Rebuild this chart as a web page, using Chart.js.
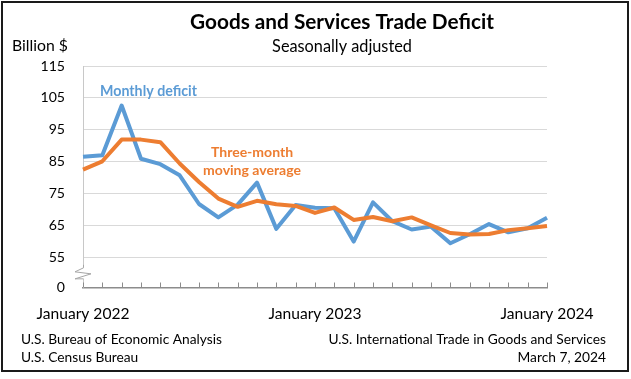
<!DOCTYPE html>
<html>
<head>
<meta charset="utf-8">
<script src="https://cdn.jsdelivr.net/npm/chart.js@4/dist/chart.umd.min.js"></script>
<style>
  html, body { margin: 0; padding: 0; background: #ffffff; }
  #wrap { position: relative; width: 631px; height: 379px; }
  canvas { display: block; }
</style>
</head>
<body>
<div id="wrap"><canvas id="c" width="631" height="379"></canvas></div>
<script>
// ---- data ----
const months = ['Jan 2022','Feb 2022','Mar 2022','Apr 2022','May 2022','Jun 2022','Jul 2022','Aug 2022','Sep 2022','Oct 2022','Nov 2022','Dec 2022',
                'Jan 2023','Feb 2023','Mar 2023','Apr 2023','May 2023','Jun 2023','Jul 2023','Aug 2023','Sep 2023','Oct 2023','Nov 2023','Dec 2023','Jan 2024'];
const monthlyDeficit = [86.5, 87.0, 102.6, 85.9, 84.2, 80.7, 71.7, 67.5, 71.5, 78.4, 63.9, 71.4,
                        70.5, 70.4, 59.9, 72.2, 66.3, 63.7, 64.6, 59.4, 62.2, 65.4, 62.8, 64.1, 67.4];
const movingAverage  = [82.5, 85.1, 91.9, 91.9, 91.1, 84.4, 78.6, 73.4, 70.8, 72.7, 71.6, 71.1,
                        68.9, 70.6, 66.7, 67.6, 66.3, 67.5, 65.0, 62.6, 62.1, 62.3, 63.5, 64.1, 64.8];
const xTickLabels = {0: 'January 2022', 12: 'January 2023', 24: 'January 2024'};
const yTickValues = [55, 65, 75, 85, 95, 105, 115];
const yBreakValue = 45.5;   // axis bottom, labelled "0" (broken axis)

const FAMILY = 'Lato, "Open Sans", sans-serif';
const BLUE = '#5B9BD5';
const ORANGE = '#ED7D31';

// fit a font size so the text has the target width
const mctx = document.createElement('canvas').getContext('2d');
function fitSize(text, width, weight) {
  mctx.font = weight + ' 100px ' + FAMILY;
  return 100 * width / mctx.measureText(text).width;
}
const tickSize = fitSize('115', 24.5, 'normal');
const xLabSize = fitSize('January 2022', 93, 'normal');

const decor = {
  id: 'decor',
  beforeDraw(chart) {
    const ctx = chart.ctx;
    ctx.save();
    ctx.fillStyle = '#ffffff';
    ctx.fillRect(0, 0, chart.width, chart.height);
    ctx.restore();
  },
  afterDraw(chart) {
    const ctx = chart.ctx;
    const xs = chart.scales.x, ys = chart.scales.y;
    const ca = chart.chartArea;
    ctx.save();
    // inner tick marks on the x axis
    ctx.strokeStyle = '#8c8c8c';
    ctx.lineWidth = 1;
    for (let i = 0; i < months.length; i++) {
      const px = Math.round(xs.getPixelForValue(i)) + 0.5;
      ctx.beginPath();
      ctx.moveTo(px, ca.bottom);
      ctx.lineTo(px, ca.bottom - 5);
      ctx.stroke();
    }
    // axis break mark
    const yb = ys.getPixelForValue(yBreakValue + 4.6);
    ctx.fillStyle = '#ffffff';
    ctx.fillRect(ca.left - 2, yb - 6, 5, 12);
    ctx.strokeStyle = '#a6a6a6';
    ctx.lineWidth = 1;
    ctx.beginPath();
    ctx.moveTo(ca.left + 0.5, yb - 8);
    ctx.lineTo(ca.left + 0.5, yb - 5);
    ctx.lineTo(ca.left - 8, yb - 1);
    ctx.lineTo(ca.left + 8, yb + 1);
    ctx.lineTo(ca.left - 8, yb + 6);
    ctx.lineTo(ca.left + 0.5, yb + 6);
    ctx.stroke();

    // texts
    ctx.textBaseline = 'alphabetic';
    ctx.fillStyle = '#000000';
    let s;
    s = fitSize('Goods and Services Trade Deficit', 304, 'bold');
    ctx.font = 'bold ' + s + 'px ' + FAMILY;
    ctx.textAlign = 'center';
    ctx.fillText('Goods and Services Trade Deficit', 342, 29);

    s = fitSize('Seasonally adjusted', 140, 'normal');
    ctx.font = s + 'px ' + FAMILY;
    ctx.fillText('Seasonally adjusted', 342, 52);

    s = fitSize('Billion $', 56, 'normal');
    ctx.font = s + 'px ' + FAMILY;
    ctx.textAlign = 'left';
    ctx.fillText('Billion $', 12, 51);

    s = fitSize('U.S. Bureau of Economic Analysis', 201, 'normal');
    ctx.font = s + 'px ' + FAMILY;
    ctx.fillText('U.S. Bureau of Economic Analysis', 21, 344);
    ctx.fillText('U.S. Census Bureau', 21, 362);

    s = fitSize('U.S. International Trade in Goods and Services', 278, 'normal');
    ctx.font = s + 'px ' + FAMILY;
    ctx.textAlign = 'right';
    ctx.fillText('U.S. International Trade in Goods and Services', 606, 344);
    ctx.fillText('March 7, 2024', 606, 362);

    // series annotations
    s = fitSize('Monthly deficit', 97, 'bold');
    ctx.font = 'bold ' + s + 'px ' + FAMILY;
    ctx.fillStyle = BLUE;
    ctx.textAlign = 'center';
    ctx.fillText('Monthly deficit', 148.5, 96);

    s = fitSize('moving average', 98, 'bold');
    ctx.font = 'bold ' + s + 'px ' + FAMILY;
    ctx.fillStyle = ORANGE;
    ctx.fillText('Three-month', 252, 157);
    ctx.fillText('moving average', 252, 175);

    // outer frame
    ctx.strokeStyle = '#1a1a1a';
    ctx.lineWidth = 2;
    ctx.strokeRect(2, 2, 626, 369);
    ctx.restore();
  }
};

new Chart(document.getElementById('c'), {
  type: 'line',
  data: {
    labels: months,
    datasets: [
      { label: 'Three-month moving average', data: movingAverage, borderColor: ORANGE, borderWidth: 4,
        pointRadius: 0, tension: 0, fill: false, order: 0, borderJoinStyle: 'round', borderCapStyle: 'butt' },
      { label: 'Monthly deficit', data: monthlyDeficit, borderColor: BLUE, borderWidth: 4,
        pointRadius: 0, tension: 0, fill: false, order: 1, borderJoinStyle: 'round', borderCapStyle: 'butt' }
    ]
  },
  options: {
    responsive: false,
    animation: false,
    devicePixelRatio: 1,
    layout: { padding: { left: 0, right: 84, top: 66, bottom: 0 } },
    plugins: { legend: { display: false }, tooltip: { enabled: false }, title: { display: false } },
    scales: {
      x: {
        type: 'category',
        offset: false,
        grid: { display: false, drawTicks: false },
        border: { display: true, color: '#8c8c8c', width: 1.5 },
        ticks: {
          autoSkip: false, maxRotation: 0, minRotation: 0, padding: 17,
          color: '#000000', font: { family: FAMILY, size: xLabSize },
          callback: (v, i) => xTickLabels[i] || ''
        },
        afterFit: (scale) => { scale.height = 379 - 287.5; }
      },
      y: {
        type: 'linear',
        min: yBreakValue,
        max: 115,
        afterBuildTicks: (scale) => { scale.ticks = [yBreakValue, ...yTickValues].map(v => ({ value: v })); },
        grid: {
          drawTicks: false,
          color: (c) => (c.tick && c.tick.value === yBreakValue) ? 'rgba(0,0,0,0)' : '#d9d9d9',
          lineWidth: 1
        },
        border: { display: true, color: '#c8c8c8', width: 1 },
        ticks: {
          padding: 18, color: '#000000', font: { family: FAMILY, size: tickSize },
          callback: (v) => v === yBreakValue ? '0' : String(v)
        },
        afterFit: (scale) => { scale.width = 83; }
      }
    }
  },
  plugins: [decor]
});
</script>
</body>
</html>
